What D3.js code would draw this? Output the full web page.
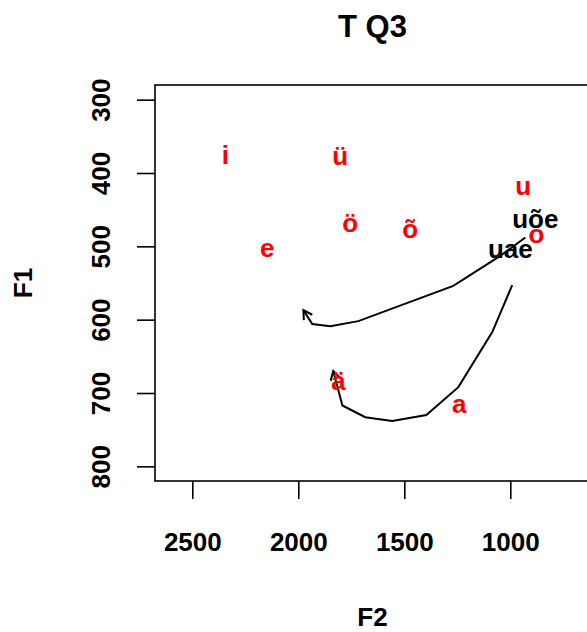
<!DOCTYPE html>
<html>
<head>
<meta charset="utf-8">
<script src="https://cdnjs.cloudflare.com/ajax/libs/d3/7.8.5/d3.min.js"></script>
<style>
  body { margin: 0; background: #fff; }
  svg { display: block; }
  text { font-family: "Liberation Sans", Arial, sans-serif; font-weight: bold; }
</style>
</head>
<body>
<div id="chart"></div>
<script>
// vowel targets (F2, F1)
var vowelLabels = ["i", "ü", "u", "ö", "õ", "e", "o", "ä", "a"];
var vowelF2 = [2344, 1802, 939, 1755, 1472, 2146, 877, 1811, 1241];
var vowelF1 = [375, 376, 417, 468, 476, 502, 483, 684, 715];

// diphthong start labels
var diphLabels = ["uõe", "uae"];
var diphF2 = [882, 1000];
var diphF1 = [462, 503];

// trajectories
var trajF2_1 = [929, 1047, 1269, 1717, 1849, 1934, 1976];
var trajF1_1 = [488, 513, 554, 602, 609, 606, 587];
var trajF2_2 = [991, 1085, 1245, 1396, 1557, 1684, 1792, 1835];
var trajF1_2 = [553, 617, 692, 730, 738, 733, 717, 670];

var xTicks = [2500, 2000, 1500, 1000];
var yTicks = [300, 400, 500, 600, 700, 800];
var xlim = [2600, 700];
var ylim = [300, 800];

var svgWidth = 587;
var svgHeight = 632;
var box = { left: 155, right: 590, top: 85, bottom: 481 };

var svg = d3.select("#chart")
  .append("svg")
  .attr("width", svgWidth)
  .attr("height", svgHeight);

// R-style 4% axis extension
var xPad = (xlim[0] - xlim[1]) * 0.04;
var yPad = (ylim[1] - ylim[0]) * 0.04;

var xScale = d3.scaleLinear()
  .domain([xlim[0] + xPad, xlim[1] - xPad])
  .range([box.left, box.right]);

var yScale = d3.scaleLinear()
  .domain([ylim[0] - yPad, ylim[1] + yPad])
  .range([box.top, box.bottom]);

// axes
var bottomAxis = d3.axisBottom(xScale).tickValues(xTicks).tickFormat(d3.format("d"))
  .tickSize(18).tickSizeOuter(0).tickPadding(34);
var leftAxis = d3.axisLeft(yScale).tickValues(yTicks).tickFormat(d3.format("d"))
  .tickSize(18).tickSizeOuter(0);

var gx = svg.append("g")
  .attr("transform", `translate(0, ${box.bottom})`)
  .call(bottomAxis);
gx.select(".domain").remove();
gx.selectAll("line").attr("stroke", "#000").attr("stroke-width", 1.6);
gx.selectAll("text")
  .attr("font-size", 26)
  .attr("fill", "#000")
  .style("font-family", "'Liberation Sans', Arial, sans-serif")
  .style("font-weight", "bold");

var gy = svg.append("g")
  .attr("transform", `translate(${box.left}, 0)`)
  .call(leftAxis);
gy.select(".domain").remove();
gy.selectAll("line").attr("stroke", "#000").attr("stroke-width", 1.6);
gy.selectAll("text")
  .attr("font-size", 26)
  .attr("fill", "#000")
  .attr("x", null)
  .attr("dy", null)
  .attr("text-anchor", "middle")
  .attr("transform", "translate(-45, 0) rotate(-90)")
  .style("font-family", "'Liberation Sans', Arial, sans-serif")
  .style("font-weight", "bold");

// plot box
svg.append("rect")
  .attr("x", box.left)
  .attr("y", box.top)
  .attr("width", box.right - box.left)
  .attr("height", box.bottom - box.top)
  .attr("fill", "none")
  .attr("stroke", "#000")
  .attr("stroke-width", 1.6);

// trajectories with arrow at the end
function drawTrajectory(f2, f1) {
  var pts = f2.map(function(v, i) { return [xScale(v), yScale(f1[i])]; });
  svg.append("path")
    .attr("d", d3.line()(pts))
    .attr("fill", "none")
    .attr("stroke", "#000")
    .attr("stroke-width", 2);

  var p1 = pts[pts.length - 2];
  var p2 = pts[pts.length - 1];
  var ang = Math.atan2(p2[1] - p1[1], p2[0] - p1[0]);
  var len = 10;
  var a1 = ang + Math.PI - Math.PI / 6;
  var a2 = ang + Math.PI + Math.PI / 6;
  svg.append("path")
    .attr("d", d3.line()([
      [p2[0] + len * Math.cos(a1), p2[1] + len * Math.sin(a1)],
      p2,
      [p2[0] + len * Math.cos(a2), p2[1] + len * Math.sin(a2)]
    ]))
    .attr("fill", "none")
    .attr("stroke", "#000")
    .attr("stroke-width", 2);
}
drawTrajectory(trajF2_1, trajF1_1);
drawTrajectory(trajF2_2, trajF1_2);

// diphthong labels (black)
svg.append("g").selectAll("text")
  .data(diphLabels)
  .enter()
  .append("text")
  .attr("x", (d, i) => xScale(diphF2[i]))
  .attr("y", (d, i) => yScale(diphF1[i]))
  .attr("dy", "0.35em")
  .attr("text-anchor", "middle")
  .attr("font-size", 26)
  .attr("fill", "#000")
  .text(d => d);

// vowel labels (red)
svg.append("g").selectAll("text")
  .data(vowelLabels)
  .enter()
  .append("text")
  .attr("x", (d, i) => xScale(vowelF2[i]))
  .attr("y", (d, i) => yScale(vowelF1[i]))
  .attr("dy", "0.35em")
  .attr("text-anchor", "middle")
  .attr("font-size", 26)
  .attr("fill", "#ff0000")
  .text(d => d);

// title and axis titles
svg.append("text")
  .attr("x", (box.left + box.right) / 2)
  .attr("y", 37)
  .attr("text-anchor", "middle")
  .attr("font-size", 31)
  .text("T Q3");

svg.append("text")
  .attr("x", (box.left + box.right) / 2)
  .attr("y", 626)
  .attr("text-anchor", "middle")
  .attr("font-size", 26)
  .text("F2");

svg.append("text")
  .attr("transform", `translate(32, ${(box.top + box.bottom) / 2}) rotate(-90)`)
  .attr("text-anchor", "middle")
  .attr("font-size", 26)
  .text("F1");
</script>
</body>
</html>
